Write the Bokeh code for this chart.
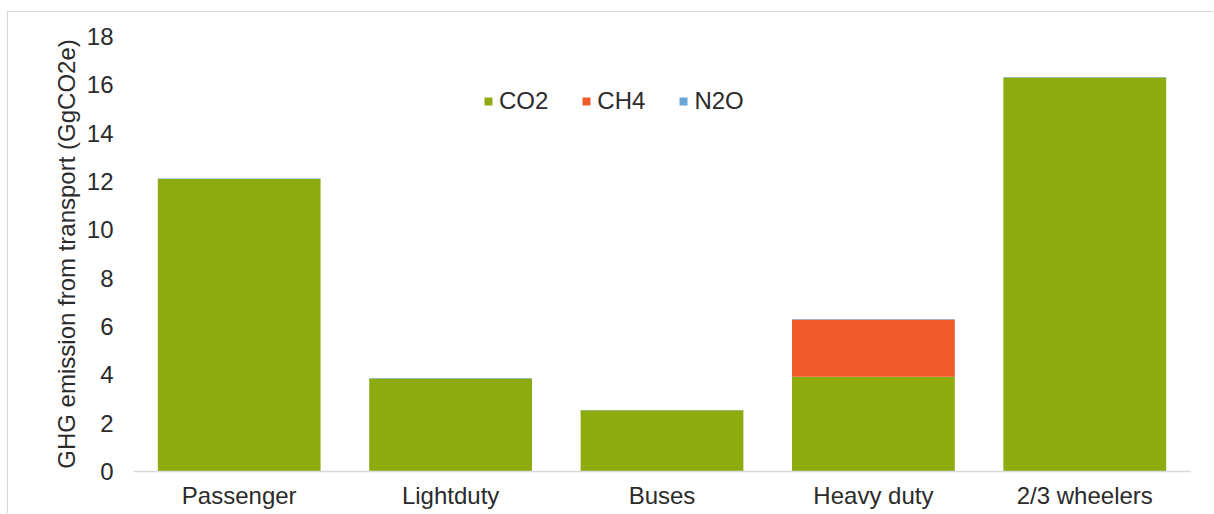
from bokeh.plotting import figure
from bokeh.models import FactorRange, Range1d, Legend, LegendItem, FixedTicker
from bokeh.embed import file_html
from bokeh.resources import INLINE

categories = ["Passenger", "Lightduty", "Buses", "Heavy duty", "2/3 wheelers"]
co2 = [12.1, 3.85, 2.53, 3.92, 16.3]
ch4 = [0.0, 0.0, 0.0, 2.37, 0.0]
n2o = [0.02, 0.02, 0.02, 0.02, 0.02]
series = ["CO2", "CH4", "N2O"]
colors = ["#8DAA0F", "#F0592A", "#6AA5D8"]
y_ticks = [0, 2, 4, 6, 8, 10, 12, 14, 16, 18]

FONT = "Liberation Sans"
TXT = "#2b2b2b"

p = figure(
    x_range=FactorRange(*categories, range_padding=0),
    y_range=Range1d(0, 18),
    width=1206, height=502,
    output_backend="svg", toolbar_location=None,
    min_border_left=125, min_border_right=24,
    min_border_top=24, min_border_bottom=43,
)
p.margin = (11, 0, 0, 7)
p.styles = {"border-top": "1px solid #d6d6d6", "border-left": "1px solid #d6d6d6"}
p.outline_line_color = None
p.background_fill_color = "white"
p.border_fill_color = "white"

data = {"cat": categories, "CO2": co2, "CH4": ch4, "N2O": n2o}
renderers = p.vbar_stack(series, x="cat", width=0.77, color=colors,
                         source=data, line_color=None)

legend = Legend(
    items=[LegendItem(label=s, renderers=[r]) for s, r in zip(series, renderers)],
    orientation="horizontal",
    location=(350, 356),
    padding=0, margin=0, spacing=33,
    glyph_width=10, glyph_height=10, label_standoff=6,
    label_text_font=FONT, label_text_font_size="24px", label_text_color=TXT,
    border_line_color=None, background_fill_alpha=0,
)
p.add_layout(legend, "center")

p.xgrid.grid_line_color = None
p.ygrid.grid_line_color = None

p.xaxis.axis_line_color = "#d9d9d9"
p.xaxis.axis_line_width = 1.5
p.xaxis.major_tick_line_color = None
p.xaxis.minor_tick_line_color = None
p.xaxis.major_label_text_font = FONT
p.xaxis.major_label_text_font_size = "24px"
p.xaxis.major_label_text_color = TXT
p.xaxis.major_label_standoff = 4

p.yaxis.ticker = FixedTicker(ticks=y_ticks)
p.yaxis.axis_line_color = None
p.yaxis.major_tick_line_color = None
p.yaxis.minor_tick_line_color = None
p.yaxis.major_label_text_font = FONT
p.yaxis.major_label_text_font_size = "24px"
p.yaxis.major_label_text_color = TXT
p.yaxis.major_label_standoff = 14
p.yaxis.axis_label = "GHG emission from transport (GgCO2e)"
p.yaxis.axis_label_text_font = FONT
p.yaxis.axis_label_text_font_size = "24px"
p.yaxis.axis_label_text_font_style = "normal"
p.yaxis.axis_label_text_color = TXT
p.yaxis.axis_label_standoff = 4

open("out.html", "w").write(file_html(p, INLINE))
